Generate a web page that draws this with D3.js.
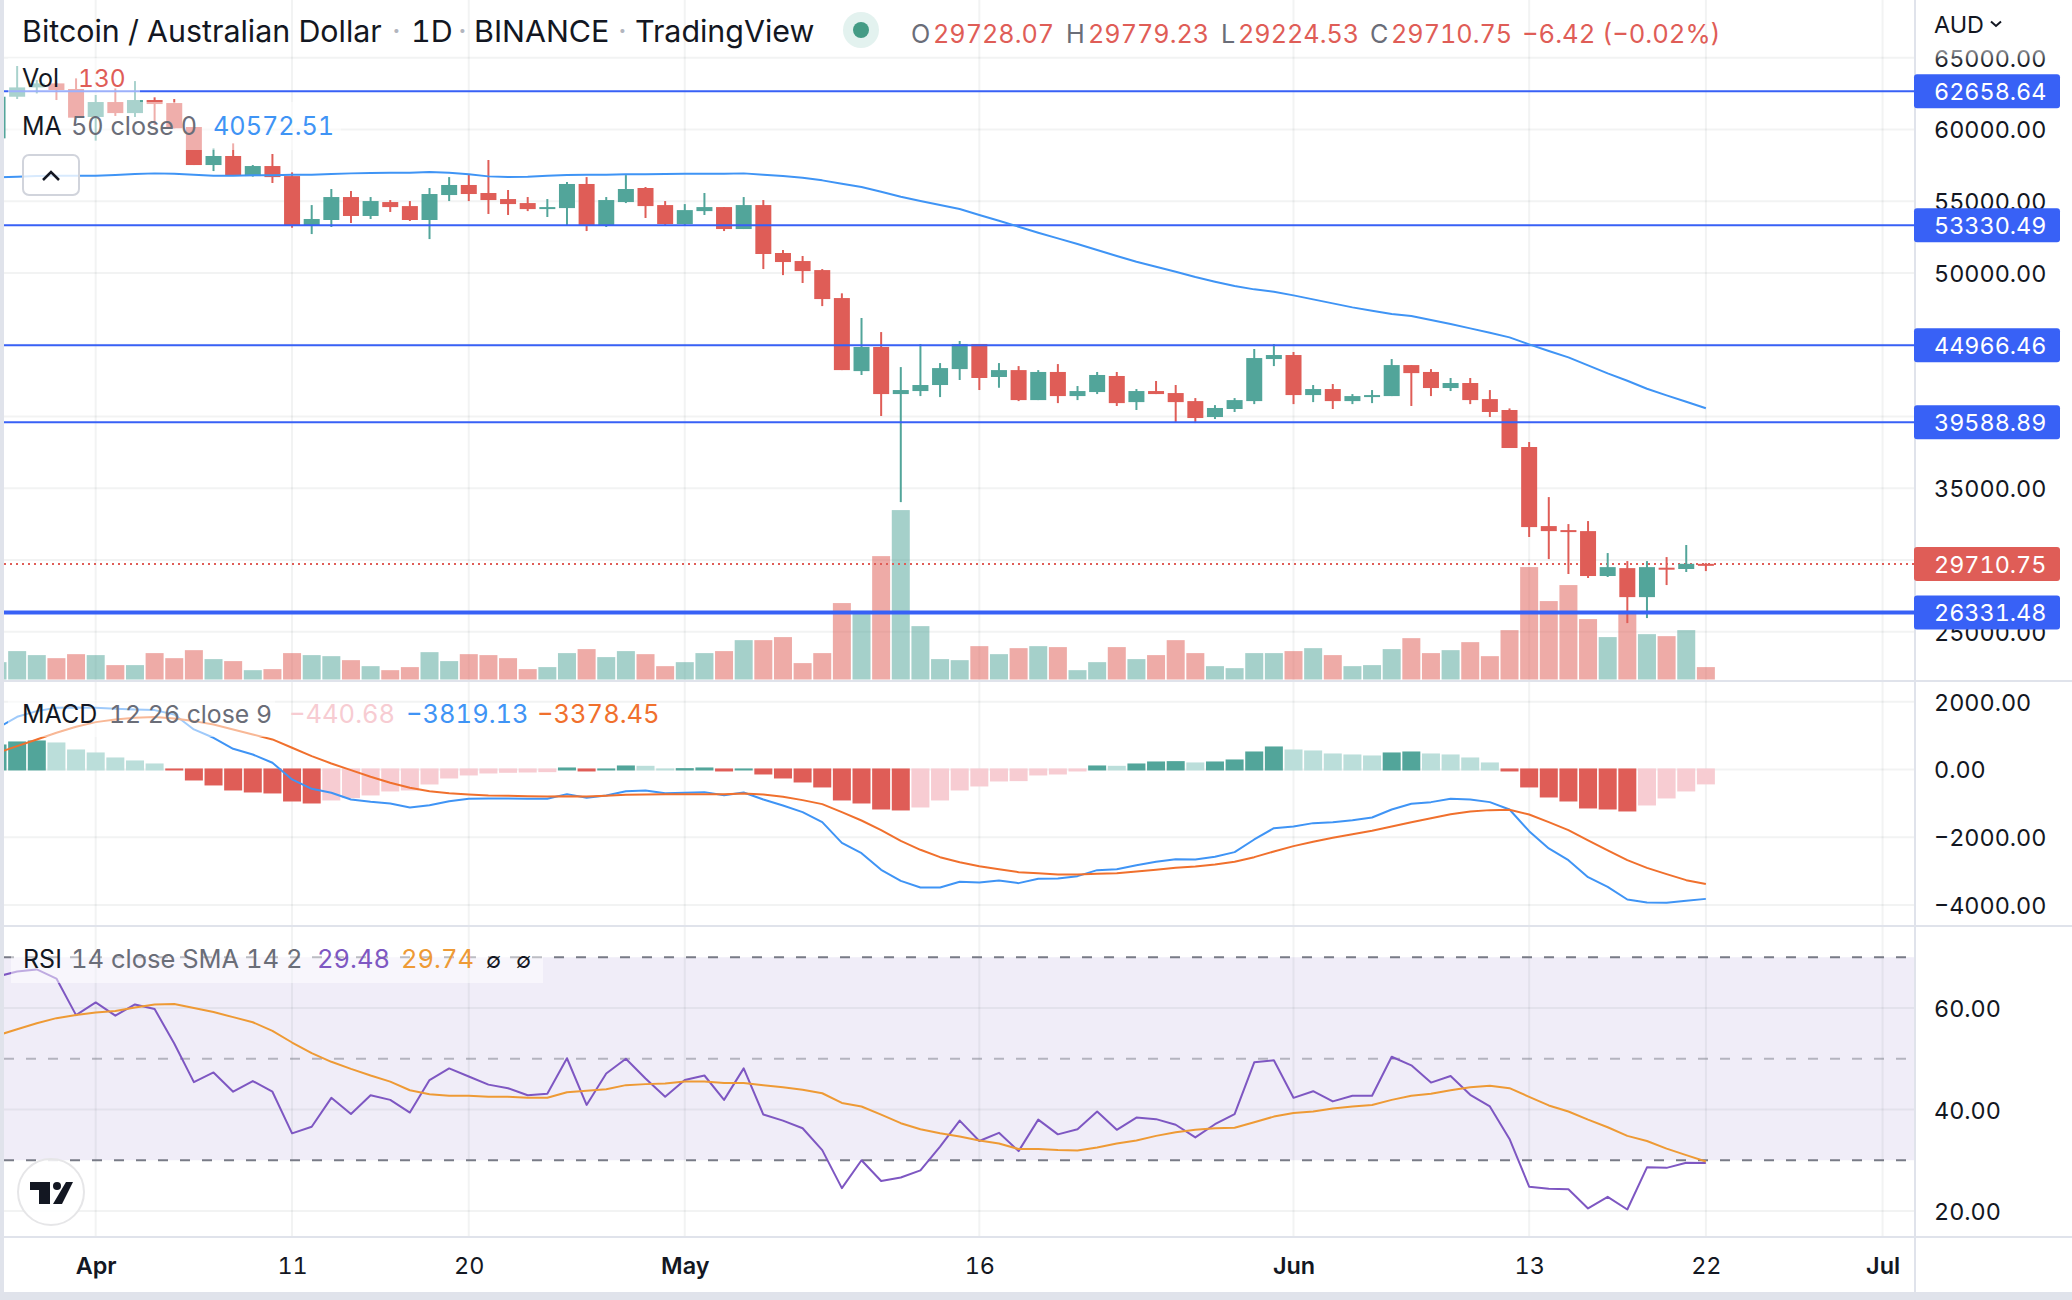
<!doctype html>
<html lang="en">

<head>
  <meta charset="utf-8">
  <title>Bitcoin / Australian Dollar</title>
  <style>
    body { margin: 0; background: #fff; }
    svg { display: block; }
    text { font-family: Inter, "Noto Sans", sans-serif; font-variant-numeric: tabular-nums; font-feature-settings: "tnum"; }
    .axis text { font-family: Inter, "Noto Sans", sans-serif; font-size: 23.4px; fill: #131722; }
    .axis path { display: none; }
    .grid { stroke: rgba(42, 46, 57, 0.06); stroke-width: 2; fill: none; }
  </style>
</head>

<body>
  <div id="chart"></div>
  <script src="https://d3js.org/d3.v7.min.js"></script>
  <script>
    // one entry per day, first candle is 27 March 2022
    const firstDay = new Date(Date.UTC(2022, 2, 27));

    const opens = [
      59380, 62280, 62930, 63210, 62820, 60870, 61910, 61140, 62050, 61840,
      60170, 57520, 58150, 56750, 57450, 56750, 53340, 53690, 55290, 53970,
      54940, 54660, 53690, 55430, 56130, 55570, 55150, 54870, 54480, 54520,
      56200, 53340, 54940, 55920, 54730, 53410, 54310, 54590, 53060, 54730,
      51390, 50830, 50200, 48250, 43160, 44840, 41560, 41770, 42190, 43300,
      45050, 42750, 43230, 41140, 43100, 41420, 41700, 42820, 41000, 41770,
      41630, 41070, 39960, 40520, 41070, 44000, 44280, 41490, 41910, 41070,
      41350, 41420, 43580, 43100, 41980, 42330, 41210, 40450, 37870, 32360,
      32080, 32010, 28880, 29430, 27410, 29460, 29370, 29728.07
    ];
    const highs = [
      62280, 64420, 63440, 63250, 63560, 62400, 62860, 63370, 62240, 62120,
      60170, 58680, 59030, 57520, 58290, 57010, 54730, 55850, 55710, 55290,
      55080, 55010, 55920, 56680, 56890, 57870, 55780, 55290, 55150, 56340,
      56680, 55290, 56820, 55990, 55010, 54800, 55570, 54590, 55290, 55080,
      51600, 51180, 50270, 48580, 46860, 45880, 43440, 45050, 43720, 45260,
      45050, 43720, 43510, 43230, 43650, 42120, 43100, 43100, 41910, 42470,
      42190, 41280, 40790, 41280, 44700, 45050, 44490, 42190, 42260, 41560,
      41840, 44000, 43580, 43300, 42680, 42680, 41840, 40560, 38220, 34380,
      32500, 32710, 30480, 29920, 29920, 30200, 31040, 29779.23
    ];
    const lows = [
      59380, 62120, 62510, 62050, 60820, 59220, 60940, 60870, 60310, 60080,
      57520, 57100, 56780, 56710, 56270, 53150, 52710, 53200, 53480, 53760,
      54250, 53620, 52360, 55010, 55010, 54110, 54040, 54310, 53900, 53340,
      52920, 53200, 54870, 53830, 53340, 53270, 54040, 52920, 53060, 50270,
      49850, 49300, 47690, 43230, 42890, 40030, 34030, 41420, 41350, 42540,
      41840, 42000, 41070, 41140, 40930, 41140, 41560, 40730, 40450, 41560,
      39610, 39540, 39820, 40310, 40860, 43510, 40860, 41000, 40520, 40860,
      40930, 41420, 40730, 41420, 41770, 40860, 39960, 37800, 31600, 30060,
      29020, 28740, 28810, 25600, 25950, 28250, 29160, 29224.53
    ];
    const closes = [
      62280, 62930, 63210, 62750, 60820, 61910, 61140, 62050, 61770, 60080,
      57520, 58150, 56820, 57450, 56680, 53340, 53760, 55290, 53970, 55010,
      54590, 53690, 55500, 56130, 55500, 55080, 54800, 54450, 54590, 56200,
      53340, 55080, 55850, 54660, 53410, 54380, 54590, 53060, 54730, 51320,
      50760, 50130, 48180, 43230, 44840, 41560, 41840, 42190, 43370, 45050,
      42680, 43230, 41140, 43100, 41420, 41770, 42890, 40930, 41770, 41560,
      41000, 39890, 40590, 41140, 44070, 44280, 41490, 41910, 41070, 41420,
      41490, 43580, 43020, 41980, 42330, 41140, 40310, 37800, 32290, 32010,
      31970, 28880, 29500, 27410, 29500, 29370, 29730, 29710.75
    ];
    const volumes = [
      182, 298, 256, 224, 266, 256, 151, 151, 277, 224,
      308, 214, 193, 98, 109, 277, 256, 245, 203, 140,
      98, 130, 287, 193, 266, 256, 224, 109, 130, 277,
      319, 235, 298, 266, 140, 182, 277, 298, 413, 413,
      445, 172, 277, 802, 721, 1295, 1778, 560, 214, 203,
      350, 266, 329, 350, 340, 98, 182, 340, 214, 256,
      413, 277, 140, 119, 277, 277, 298, 329, 256, 140,
      151, 319, 434, 277, 308, 392, 245, 518, 1180, 823,
      991, 634, 445, 721, 476, 455, 518, 130
    ];
    const ma50 = [
      56661, 56707, 56754, 56777, 56777, 56777, 56823, 56893, 56939, 56916,
      56846, 56777, 56777, 56800, 56800, 56846, 56846, 56893, 56939, 56962,
      56986, 56986, 57032, 56986, 56870, 56730, 56684, 56707, 56777, 56823,
      56846, 56846, 56870, 56870, 56893, 56916, 56916, 56916, 56939, 56846,
      56754, 56637, 56452, 56219, 55987, 55662, 55313, 55011, 54732, 54454,
      54036, 53641, 53223, 52804, 52410, 52014, 51597, 51178, 50783, 50435,
      50087, 49715, 49390, 49088, 48856, 48693, 48437, 48158, 47880, 47601,
      47368, 47136, 46997, 46718, 46440, 46137, 45836, 45510, 45022, 44558,
      44116, 43559, 43001, 42491, 41933, 41468, 41027, 40572.51
    ];
    const macdHist = [
      738, 827, 856, 797, 590, 502, 354, 266, 177, -30,
      -325, -472, -620, -679, -708, -945, -1004, -915, -846, -767,
      -649, -620, -443, -266, -177, -118, -98, -89, -79, 59,
      -59, 30, 118, 108, 30, 39, 59, -59, 30, -148,
      -266, -384, -531, -915, -1004, -1181, -1210, -1122, -915, -620,
      -502, -354, -344, -177, -148, -59, 118, 108, 177, 236,
      246, 207, 236, 295, 531, 679, 590, 561, 472, 443,
      413, 502, 531, 472, 443, 354, 207, -59, -531, -827,
      -945, -1151, -1181, -1240, -1063, -856, -649, -440.68
    ];
    const macdLine = [
      1220, 1555, 1722, 1820, 1830, 1820, 1791, 1771, 1752, 1624,
      1181, 935, 610, 443, 197, -295, -571, -689, -886, -954,
      -1004, -1122, -1053, -935, -866, -856, -856, -866, -866, -728,
      -836, -768, -640, -620, -699, -689, -669, -758, -679, -886,
      -1063, -1260, -1555, -2165, -2470, -2962, -3287, -3483, -3483, -3316,
      -3336, -3277, -3355, -3228, -3218, -3149, -2972, -2942, -2824, -2726,
      -2647, -2657, -2578, -2440, -2066, -1732, -1683, -1584, -1555, -1496,
      -1417, -1181, -1014, -964, -866, -886, -964, -1181, -1820, -2332,
      -2676, -3178, -3464, -3838, -3926, -3936, -3877, -3819.13
    ];
    const macdSignal = [
      492, 689, 886, 1082, 1260, 1397, 1476, 1525, 1545, 1506,
      1427, 1328, 1181, 1033, 886, 640, 394, 177, -20, -216,
      -394, -541, -640, -699, -738, -768, -777, -787, -797, -787,
      -797, -777, -748, -738, -728, -728, -728, -728, -708, -738,
      -807, -905, -1023, -1260, -1506, -1791, -2106, -2371, -2588, -2736,
      -2854, -2942, -3031, -3060, -3100, -3100, -3080, -3060, -3011, -2962,
      -2903, -2863, -2804, -2726, -2588, -2421, -2263, -2135, -2017, -1909,
      -1811, -1683, -1555, -1437, -1319, -1240, -1200, -1191, -1328, -1555,
      -1791, -2096, -2391, -2676, -2903, -3090, -3267, -3378.45
    ];
    const rsi = [
      66.2, 67.2, 67.6, 65.8, 58.6, 61.1, 58.5, 60.7, 59.8, 53.0,
      45.4, 47.3, 43.5, 45.6, 43.5, 35.3, 36.6, 42.3, 39.1, 42.8,
      41.9, 39.4, 45.8, 48.1, 46.5, 44.9, 44.2, 42.8, 43.1, 50.1,
      40.9, 47.1, 50.0, 46.1, 42.5, 45.8, 46.7, 41.9, 48.1, 39.0,
      37.8, 36.3, 32.0, 24.5, 30.0, 25.9, 26.6, 28.0, 32.7, 37.8,
      33.8, 35.4, 31.8, 38.0, 35.1, 36.1, 39.6, 36.0, 38.4, 38.1,
      37.0, 34.5, 37.1, 39.1, 49.3, 49.7, 42.3, 43.6, 41.6, 42.7,
      42.7, 50.4, 48.7, 45.3, 46.6, 42.9, 40.6, 34.2, 24.8, 24.4,
      24.3, 20.5, 22.8, 20.3, 28.6, 28.5, 29.5, 29.48
    ];
    const rsiSma = [
      54.6, 55.8, 57.0, 58.0, 58.6, 59.1, 59.4, 60.1, 60.7, 60.8,
      60.0, 59.2, 58.2, 57.2, 55.5, 53.2, 51.1, 49.4, 48.0, 46.7,
      45.5, 43.8, 43.0, 42.7, 42.7, 42.5, 42.5, 42.3, 42.3, 43.4,
      43.7, 44.0, 44.8, 45.0, 45.1, 45.5, 45.5, 45.2, 45.2, 44.8,
      44.4, 43.9, 43.2, 41.3, 40.6, 39.0, 37.3, 36.1, 35.3, 34.7,
      33.9, 33.3, 32.2, 32.2, 32.0, 31.9, 32.5, 33.3, 33.9, 34.8,
      35.5, 36.0, 36.3, 36.4, 37.5, 38.6, 39.3, 39.6, 40.2, 40.6,
      40.9, 41.9, 42.7, 43.1, 43.8, 44.4, 44.7, 44.2, 42.5, 40.8,
      39.6, 38.0, 36.5, 34.8, 33.8, 32.3, 31.0, 29.74
    ];

    // axes
    const priceGrid = [65000, 60000, 55000, 50000, 45000, 40000, 35000, 30000, 25000];
    const priceTicks = [65000, 60000, 55000, 50000, 35000, 25000]; // the rest sit behind the level tags
    const macdTicks = [2000, 0, -2000, -4000];
    const rsiTicks = [60, 40, 20];
    const rsiLevels = [70, 50, 30];
    const priceLevels = [62658.64, 53330.49, 44966.46, 39588.89, 26331.48];
    const lastPrice = 29710.75;
    const timeTicks = [[2022, 3, 1], [2022, 3, 11], [2022, 3, 20], [2022, 4, 1], [2022, 4, 16],
      [2022, 5, 1], [2022, 5, 13], [2022, 5, 22], [2022, 6, 1]].map(d => new Date(Date.UTC(d[0], d[1], d[2])));
    const timeLabels = ['Apr', '11', '20', 'May', '16', 'Jun', '13', '22', 'Jul'];

    const green = '#52a59a';
    const red = '#df5d57';
    const blue = '#3f94f5';
    const lineBlue = '#3861f6';
    const ink = '#131722';
    const gray = '#6a6d78';

    const days = d3.range(opens.length);
    const dayDate = i => d3.utcDay.offset(firstDay, i);

    const paneLeft = 4;
    const paneRight = 1914;

    const x = d3.scaleUtc()
      .domain([timeTicks[0], timeTicks[8]])
      .range([95.7, 1882.6]);

    const yPrice = d3.scaleLinear().domain([65000, 25000]).range([57.7, 631.7]);
    const yVolume = d3.scaleLinear().domain([0, 1800]).range([679.5, 508]);
    const yMacd = d3.scaleLinear().domain([2000, -4000]).range([701.7, 905]);
    const yRsi = d3.scaleLinear().domain([60, 20]).range([1008, 1211]);

    const svg = d3.select('#chart').append('svg')
      .attr('width', 2072)
      .attr('height', 1300);

    const defs = svg.append('defs');
    const fade = defs.append('linearGradient')
      .attr('id', 'fade')
      .attr('x1', 0).attr('x2', 0).attr('y1', 0).attr('y2', 1);
    fade.append('stop').attr('offset', '0%').attr('stop-color', '#fff').attr('stop-opacity', 0.85);
    fade.append('stop').attr('offset', '100%').attr('stop-color', '#fff').attr('stop-opacity', 0);

    // rsi band sits under the grid
    svg.append('rect')
      .attr('x', paneLeft)
      .attr('y', yRsi(70))
      .attr('width', paneRight - paneLeft)
      .attr('height', yRsi(30) - yRsi(70))
      .attr('fill', '#f0edf8');

    // grid
    const grid = svg.append('g');
    grid.selectAll('.v')
      .data(timeTicks)
      .join('line')
      .attr('class', 'grid')
      .attr('x1', d => x(d)).attr('x2', d => x(d))
      .attr('y1', 0).attr('y2', 1237);
    const hLines = [
      ...priceGrid.map(d => yPrice(d)),
      ...macdTicks.map(d => yMacd(d)),
      ...rsiTicks.map(d => yRsi(d))
    ];
    grid.selectAll('.h')
      .data(hLines)
      .join('line')
      .attr('class', 'grid')
      .attr('x1', paneLeft).attr('x2', paneRight)
      .attr('y1', d => d).attr('y2', d => d);

    // volume
    svg.append('g')
      .selectAll('rect')
      .data(days)
      .join('rect')
      .attr('x', i => x(dayDate(i)) - 9)
      .attr('width', 18)
      .attr('y', i => yVolume(volumes[i]))
      .attr('height', i => yVolume(0) - yVolume(volumes[i]))
      .attr('fill', i => closes[i] >= opens[i] ? green : red)
      .attr('opacity', 0.52);

    // last price, dotted
    svg.append('line')
      .attr('x1', paneLeft).attr('x2', paneRight)
      .attr('y1', yPrice(lastPrice)).attr('y2', yPrice(lastPrice))
      .attr('stroke', red)
      .attr('stroke-width', 2)
      .attr('stroke-dasharray', '2 4');

    // candles
    const candles = svg.append('g');
    candles.selectAll('.wick')
      .data(days)
      .join('line')
      .attr('x1', i => x(dayDate(i))).attr('x2', i => x(dayDate(i)))
      .attr('y1', i => yPrice(highs[i])).attr('y2', i => yPrice(lows[i]))
      .attr('stroke-width', 2)
      .attr('stroke', i => closes[i] >= opens[i] ? green : red);
    candles.selectAll('.body')
      .data(days)
      .join('rect')
      .attr('x', i => x(dayDate(i)) - 8)
      .attr('width', 16)
      .attr('y', i => yPrice(Math.max(opens[i], closes[i])))
      .attr('height', i => Math.max(2, Math.abs(yPrice(opens[i]) - yPrice(closes[i]))))
      .attr('fill', i => closes[i] >= opens[i] ? green : red);

    // horizontal levels, the last one is drawn heavier
    svg.append('g')
      .selectAll('line')
      .data(priceLevels)
      .join('line')
      .attr('x1', paneLeft).attr('x2', paneRight)
      .attr('y1', d => yPrice(d)).attr('y2', d => yPrice(d))
      .attr('stroke', lineBlue)
      .attr('stroke-width', (d, i) => i === 4 ? 4 : 2);

    const lineOf = (values, y) => d3.line()
      .x((d, i) => x(dayDate(i)))
      .y(d => y(d))(values);

    function drawLine(values, y, color) {
      svg.append('path')
        .attr('d', lineOf(values, y))
        .attr('fill', 'none')
        .attr('stroke', color)
        .attr('stroke-width', 2)
        .attr('stroke-linejoin', 'round');
    }

    drawLine(ma50, yPrice, blue);

    // macd histogram: dark when moving away from zero, pale when coming back
    const histColor = i => {
      const rising = i === 0 || macdHist[i] > macdHist[i - 1];
      if (macdHist[i] >= 0) return rising ? green : '#bbdeda';
      return rising ? '#f7ccd2' : red;
    };
    svg.append('g')
      .selectAll('rect')
      .data(days)
      .join('rect')
      .attr('x', i => x(dayDate(i)) - 9)
      .attr('width', 18)
      .attr('y', i => macdHist[i] >= 0 ? yMacd(macdHist[i]) : yMacd(0) - 1)
      .attr('height', i => Math.abs(yMacd(macdHist[i]) - yMacd(0)) + 1)
      .attr('fill', histColor);

    drawLine(macdLine, yMacd, blue);
    drawLine(macdSignal, yMacd, '#f0702d');

    // rsi levels
    svg.append('g')
      .selectAll('line')
      .data(rsiLevels)
      .join('line')
      .attr('x1', paneLeft).attr('x2', paneRight)
      .attr('y1', d => yRsi(d)).attr('y2', d => yRsi(d))
      .attr('stroke', '#787b86')
      .attr('stroke-width', 2)
      .attr('stroke-opacity', d => d === 50 ? 0.5 : 1)
      .attr('stroke-dasharray', '10 12');

    drawLine(rsi, yRsi, '#7e57c2');
    drawLine(rsiSma, yRsi, '#ee9a35');

    // pale boxes behind the legends
    const veil = [[8, 58, 132, 44], [8, 102, 333, 48], [8, 700, 267, 37], [11, 950, 532, 33]];
    svg.append('g')
      .selectAll('rect')
      .data(veil)
      .join('rect')
      .attr('x', d => d[0]).attr('y', d => d[1])
      .attr('width', d => d[2]).attr('height', d => d[3])
      .attr('fill', '#fff')
      .attr('opacity', 0.5);

    // pane frames
    const frame = svg.append('g').attr('fill', '#e0e3eb');
    frame.append('rect').attr('x', 0).attr('y', 0).attr('width', paneLeft).attr('height', 1300);
    frame.append('rect').attr('x', paneLeft).attr('y', 680).attr('width', 2068).attr('height', 2);
    frame.append('rect').attr('x', paneLeft).attr('y', 925).attr('width', 2068).attr('height', 2);
    frame.append('rect').attr('x', paneLeft).attr('y', 1236).attr('width', 2068).attr('height', 2);
    frame.append('rect').attr('x', paneRight).attr('y', 0).attr('width', 2).attr('height', 1292);
    frame.append('rect').attr('x', 0).attr('y', 1292).attr('width', 2072).attr('height', 8);

    // price scales
    const fmt = d3.format('.2f');
    svg.append('g')
      .attr('class', 'axis')
      .attr('transform', 'translate(1934,1)')
      .call(d3.axisRight(yPrice).tickValues(priceTicks).tickFormat(fmt).tickSize(0).tickPadding(0));
    svg.append('g')
      .attr('class', 'axis')
      .attr('transform', 'translate(1934,1)')
      .call(d3.axisRight(yMacd).tickValues(macdTicks).tickFormat(fmt).tickSize(0).tickPadding(0));
    svg.append('g')
      .attr('class', 'axis')
      .attr('transform', 'translate(1934,1)')
      .call(d3.axisRight(yRsi).tickValues(rsiTicks).tickFormat(fmt).tickSize(0).tickPadding(0));

    // top of the scale fades out
    svg.append('rect')
      .attr('x', 1916).attr('y', 42)
      .attr('width', 156).attr('height', 22)
      .attr('fill', 'url(#fade)');

    // price labels on the scale
    const labels = priceLevels.map(d => ({ value: d, color: lineBlue })).concat({ value: lastPrice, color: red });
    const tag = svg.append('g').selectAll('g').data(labels).join('g');
    tag.append('rect')
      .attr('x', paneRight)
      .attr('y', d => yPrice(d.value) - 17)
      .attr('width', 146)
      .attr('height', 34)
      .attr('rx', 3)
      .attr('fill', d => d.color);
    tag.append('text')
      .attr('x', 1934)
      .attr('y', d => yPrice(d.value))
      .attr('dy', '0.36em')
      .attr('font-size', 23.4)
      .attr('fill', '#fff')
      .text(d => fmt(d.value));

    // time scale
    const timeAxis = svg.append('g')
      .attr('class', 'axis')
      .attr('transform', 'translate(0,1238)')
      .call(d3.axisBottom(x)
        .tickValues(timeTicks)
        .tickFormat((d, i) => timeLabels[i])
        .tickSize(0)
        .tickPadding(19));
    timeAxis.selectAll('text')
      .style('font-weight', (d, i) => /^[A-Z]/.test(timeLabels[i]) ? 600 : 400);

    // header and legends
    function label(px, py, size, color, str) {
      svg.append('text')
        .attr('x', px)
        .attr('y', py)
        .attr('font-size', size)
        .attr('fill', color)
        .text(str);
    }

    label(22, 42, 30.4, ink, 'Bitcoin / Australian Dollar');
    label(392, 42, 30.4, '#b2b5be', '·');
    label(411, 42, 30.4, ink, '1D');
    label(458, 42, 30.4, '#b2b5be', '·');
    label(474, 42, 30.4, ink, 'BINANCE');
    label(618, 42, 30.4, '#b2b5be', '·');
    label(635, 42, 30.4, ink, 'TradingView');

    svg.append('circle').attr('cx', 861).attr('cy', 30).attr('r', 18).attr('fill', '#e3f2ef');
    svg.append('circle').attr('cx', 861).attr('cy', 30).attr('r', 8).attr('fill', '#449b85');

    label(911, 43, 25.2, gray, 'O');
    label(933, 43, 25.2, red, '29728.07');
    label(1066, 43, 25.2, gray, 'H');
    label(1088, 43, 25.2, red, '29779.23');
    label(1221, 43, 25.2, gray, 'L');
    label(1238, 43, 25.2, red, '29224.53');
    label(1370, 43, 25.2, gray, 'C');
    label(1391, 43, 25.2, red, '29710.75');
    label(1522, 43, 25.6, red, '−6.42 (−0.02%)');

    label(22, 87, 25, ink, 'Vol');
    label(78, 87, 24.5, red, '130');
    label(22, 135, 25, ink, 'MA');
    label(71, 135, 25.2, gray, '50 close 0');
    label(213, 135, 25.2, blue, '40572.51');

    label(22, 723, 25, ink, 'MACD');
    label(109, 723, 24.8, gray, '12 26 close 9');
    label(289, 723, 25.5, '#f7ccd2', '−440.68');
    label(406, 723, 25.5, blue, '−3819.13');
    label(537, 723, 25.5, '#f0702d', '−3378.45');

    label(23, 968, 25, ink, 'RSI');
    label(71, 968, 25.5, gray, '14 close SMA 14 2');
    label(317, 968, 25.5, '#7e57c2', '29.48');
    label(401, 968, 25.5, '#ee9a35', '29.74');
    label(486, 968, 22, ink, '∅');
    label(516, 968, 22, ink, '∅');

    // currency menu
    label(1934, 33, 23.4, ink, 'AUD');
    svg.append('path')
      .attr('d', 'M1991,21.5l5,4.5l5,-4.5')
      .attr('fill', 'none')
      .attr('stroke', ink)
      .attr('stroke-width', 2);

    // collapse button
    svg.append('rect')
      .attr('x', 23).attr('y', 155)
      .attr('width', 56).attr('height', 40)
      .attr('rx', 6)
      .attr('fill', '#fff').attr('fill-opacity', 0.8)
      .attr('stroke', '#d1d4dc').attr('stroke-width', 2);
    svg.append('path')
      .attr('d', 'M43,180l8,-8l8,8')
      .attr('fill', 'none')
      .attr('stroke', ink)
      .attr('stroke-width', 2.5);

    // tradingview badge
    svg.append('circle')
      .attr('cx', 51).attr('cy', 1192).attr('r', 33)
      .attr('fill', '#fff').attr('fill-opacity', 0.85)
      .attr('stroke', '#e6e6e8').attr('stroke-width', 2);
    svg.append('path')
      .attr('d', 'M30,1182h20v22h-11v-14h-9zM66,1182h7l-11,22h-9z')
      .attr('fill', ink);
    svg.append('circle').attr('cx', 57).attr('cy', 1186).attr('r', 4).attr('fill', ink);
  </script>
</body>

</html>
